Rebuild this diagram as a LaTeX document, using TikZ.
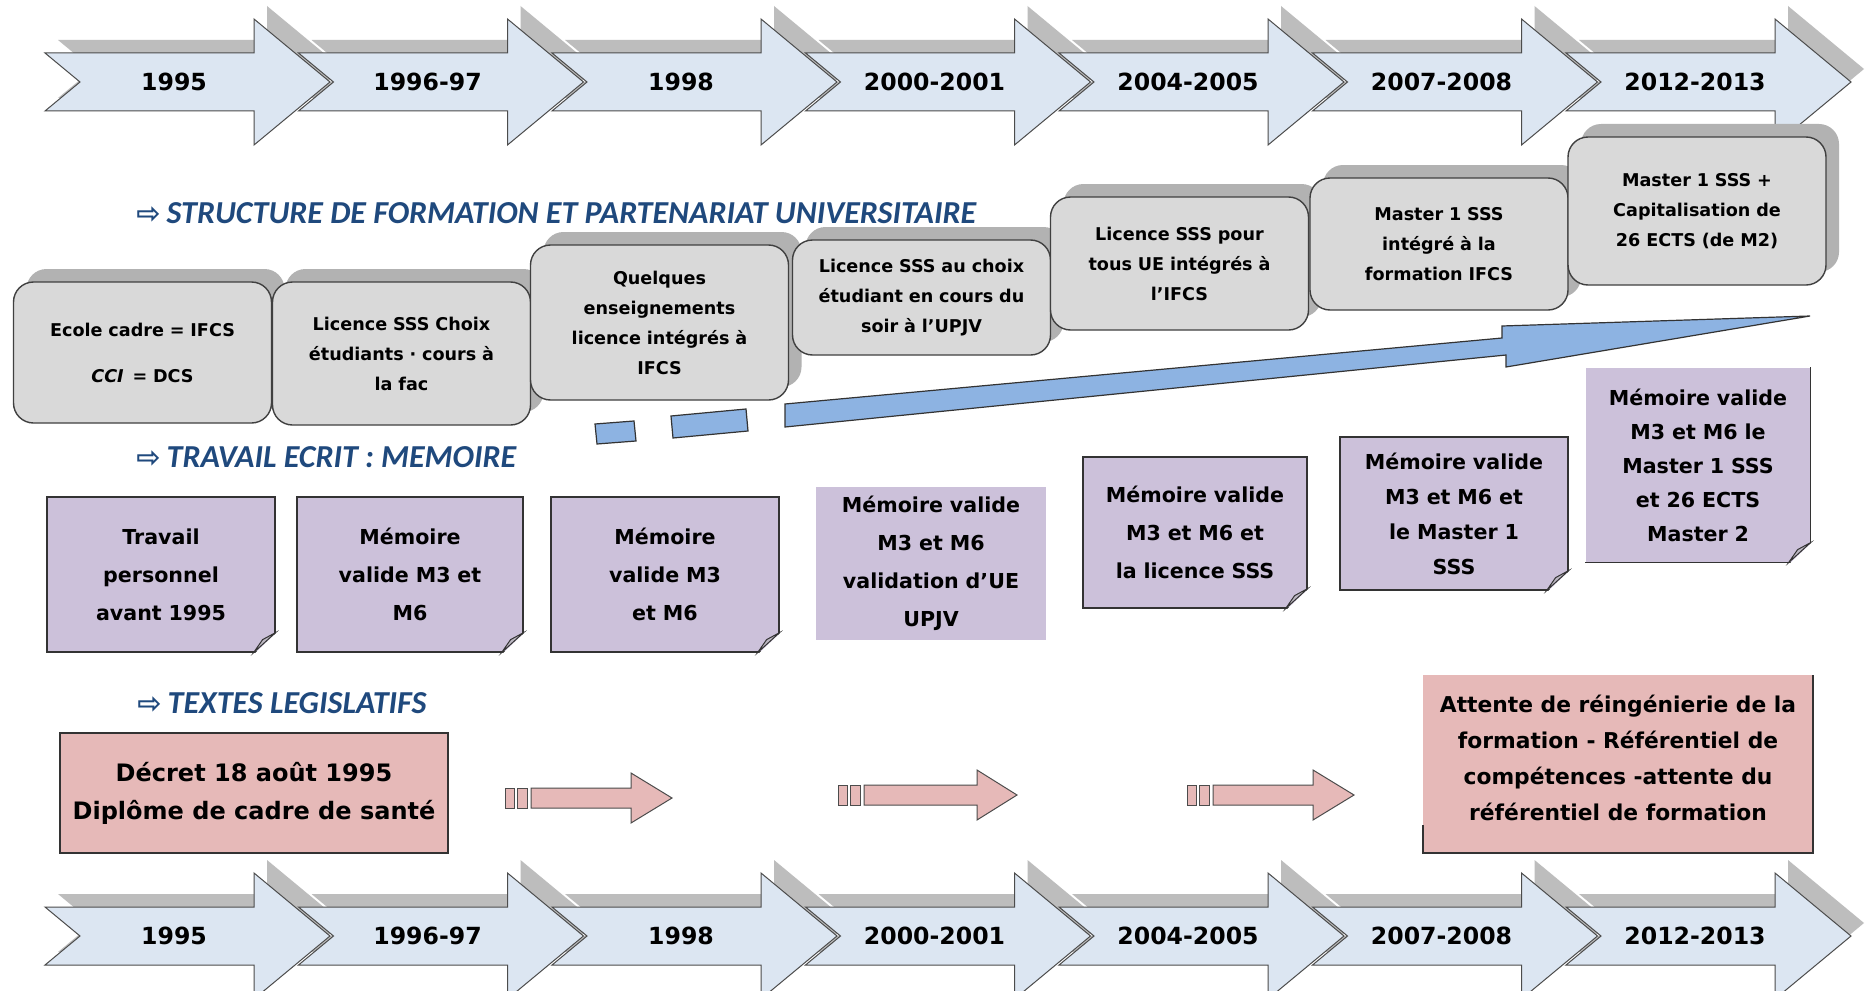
\documentclass[tikz,border=0pt]{standalone}
\usepackage{fontspec}
\setmainfont{DejaVu Sans}
\newfontfamily\titlefont{Carlito}
\usetikzlibrary{positioning}
\usetikzlibrary{calc}
\usetikzlibrary{shadows}

\definecolor{chevfill}{HTML}{DCE6F2}
\definecolor{boxgrey}{HTML}{D9D9D9}
\definecolor{memofill}{HTML}{CCC1DA}
\definecolor{lawfill}{HTML}{E6B9B8}
\definecolor{titleblue}{HTML}{1F497D}
\definecolor{barblue}{HTML}{8DB3E2}

\newcommand{\yearfont}{\fontsize{11.8}{14}\selectfont\bfseries}
\newcommand{\phasefont}{\fontsize{8.8}{15}\selectfont\bfseries}
\newcommand{\memofont}{\fontsize{10.3}{19}\selectfont\bfseries}
\newcommand{\lawfont}{\fontsize{12}{19}\selectfont\bfseries}
\newcommand{\lawsmallfont}{\fontsize{10.9}{18}\selectfont\bfseries}
\newcommand{\headfont}{\titlefont\fontsize{16}{18}\selectfont\bfseries\itshape}
\newcommand{\arrowfont}{\normalfont\fontsize{14.5}{16}\selectfont\bfseries}

\newcommand{\chevshape}[3]{%
  \path[#1] (#2-209,#3-29) -- (#2,#3-29) -- (#2,#3-63) -- (#2+76,#3) -- (#2,#3+63)
    -- (#2,#3+29) -- (#2-209,#3+29) -- (#2-174,#3) -- cycle;}

\begin{document}
\begin{tikzpicture}[x=0.5pt,y=-0.5pt,
  chev/.style={fill=chevfill,draw=black!70,line width=0.5pt},
  chevshade/.style={fill=black!26},
  yearlbl/.style={font=\yearfont,inner sep=0pt},
  heading/.style={anchor=west,text=titleblue,font=\headfont,inner sep=0pt},
  phase/.style={draw=black!75,line width=0.7pt,fill=boxgrey,rounded corners=10pt,align=center,
    minimum width=129pt,text width=120pt,inner sep=2pt,font=\phasefont,
    drop shadow={shadow xshift=6.5pt,shadow yshift=6.5pt,fill=black!30,opacity=1}},
  memo/.style={draw=black!80,line width=0.6pt,fill=memofill,align=center,text width=108pt,
    inner sep=0pt,font=\memofont},
  curl/.style={fill=memofill!70!black!60,draw=black!80,line width=0.5pt},
  law/.style={draw=black!80,line width=0.6pt,fill=lawfill,align=center,inner sep=0pt,font=\lawfont},
  lawtext/.style={align=center,inner sep=0pt,font=\lawsmallfont},
  pinkbar/.style={fill=lawfill,draw=black!70,line width=0.5pt},
  bluebar/.style={fill=barblue,draw=black!80,line width=0.6pt}]

\useasboundingbox (0,0) rectangle (1867,990);
\fill[white] (0,0) rectangle (1867,990);

\foreach \i in {0,...,6} {
  \pgfmathsetmacro\b{254+253.5*\i}
  \chevshape{chevshade,shift={(13,-13)}}{\b}{82}
  \chevshape{chevshade,shift={(13,-13)}}{\b}{936}
}
\foreach \yr [count=\i from 0] in {1995,1996-97,1998,2000-2001,2004-2005,2007-2008,2012-2013} {
  \pgfmathsetmacro\b{254+253.5*\i}
  \chevshape{chev}{\b}{82}
  \chevshape{chev}{\b}{936}
  \node[yearlbl] (t\i) at (\b-80,82) {\yr};
  \node[yearlbl] (b\i) at (\b-80,936) {\yr};
}

\node[heading] (h1) at (136,213) {{\arrowfont ⇨}\hspace{3pt}STRUCTURE DE FORMATION ET PARTENARIAT UNIVERSITAIRE};
\node[heading] (h2) at (136,457) {{\arrowfont ⇨}\hspace{3pt}TRAVAIL ECRIT : MEMOIRE};
\node[heading] (h3) at (137,703) {{\arrowfont ⇨}\hspace{3pt}TEXTES LEGISLATIFS};

\node[phase,minimum height=70.5pt] (s1) at (142.5,352.5) {Ecole cadre = IFCS\\[8pt]\textit{CCI}\, = DCS};
\node[phase,minimum height=71.5pt] (s2) at (401.5,353.5) {Licence SSS Choix\\étudiants · cours à\\la fac};
\node[phase,minimum height=77.5pt] (s3) at (659.5,322.5) {Quelques\\enseignements\\licence intégrés à\\IFCS};
\node[phase,minimum height=57.5pt] (s4) at (921.5,297.5) {Licence SSS au choix\\étudiant en cours du\\soir à l'UPJV};
\node[phase,minimum height=66.5pt] (s5) at (1179.5,263.5) {Licence SSS pour\\tous UE intégrés à\\l'IFCS};
\node[phase,minimum height=66pt] (s6) at (1439,244) {Master 1 SSS\\intégré à la\\formation IFCS};
\node[phase,minimum height=74pt] (s7) at (1697,211) {Master 1 SSS +\\Capitalisation de\\26 ECTS (de M2)};

\draw[bluebar] (595,424) -- (634,421) -- (636,441) -- (597,444) -- cycle;
\draw[bluebar] (671,416) -- (746,409) -- (748,431) -- (673,438) -- cycle;
\draw[bluebar] (785,404) -- (1502,338) -- (1502,326) -- (1810,316) -- (1506,367) -- (1506,355) -- (785,427) -- cycle;

\node[memo,minimum width=114pt,minimum height=77.5pt] (m1) at (161,574.5) {Travail\\personnel\\avant 1995};
\node[memo,minimum width=113pt,minimum height=77.5pt] (m2) at (410,574.5) {Mémoire\\valide M3 et\\M6};
\node[memo,minimum width=114pt,minimum height=77.5pt] (m3) at (665,574.5) {Mémoire\\valide M3\\et M6};
\node[memo,draw=none,minimum width=115pt,minimum height=76.5pt] (m4) at (931,563.5) {Mémoire valide\\M3 et M6\\validation d'UE\\UPJV};
\node[memo,minimum width=112pt,minimum height=75.5pt] (m5) at (1195,532.5) {Mémoire valide\\M3 et M6 et\\la licence SSS};
\node[memo,minimum width=114pt,minimum height=76.5pt,font=\fontsize{10.3}{17.5}\selectfont\bfseries] (m6) at (1454,513.5) {Mémoire valide\\M3 et M6 et\\le Master 1\\SSS};
\node[memo,draw=none,minimum width=112pt,minimum height=97pt,font=\fontsize{10.3}{17}\selectfont\bfseries] (m7) at (1698,465) {Mémoire valide\\M3 et M6 le\\Master 1 SSS\\et 26 ECTS\\Master 2};
\draw[black!80,line width=0.6pt] (m7.north east) -- (m7.south east) -- (m7.south west);

\foreach \m in {m1,m2,m3,m5,m6,m7} {
  \fill[white] ($(\m.south east)+(-22,2)$) -- ($(\m.south east)+(2,2)$) -- ($(\m.south east)+(2,-21)$) -- cycle;
  \path[curl] ($(\m.south east)+(-22,0)$) -- ($(\m.south east)+(0,-20)$) -- ($(\m.south east)+(-13,-13)$) -- cycle;
}

\node[law,minimum width=194pt,minimum height=60pt] (l1) at (254,793) {Décret 18 août 1995\\Diplôme de cadre de santé};

\foreach \s/\e/\t/\yc in {505/631/672/798,838/977/1017/795,1187/1313/1354/795} {
  \draw[pinkbar] (\s,\yc-10) rectangle (\s+9,\yc+10);
  \draw[pinkbar] (\s+12,\yc-10) rectangle (\s+22,\yc+10);
  \draw[pinkbar] (\s+26,\yc-10) -- (\e,\yc-10) -- (\e,\yc-25) -- (\t,\yc) -- (\e,\yc+25) -- (\e,\yc+10) -- (\s+26,\yc+10) -- cycle;
}

\fill[lawfill] (1423,675) rectangle (1813,853);
\draw[black!80,line width=0.6pt] (1423,825) -- (1423,853) -- (1813,853) -- (1813,675);
\node[lawtext] (l2) at (1618,758) {Attente de réingénierie de la\\formation - Référentiel de\\compétences -attente du\\référentiel de formation};

\end{tikzpicture}
\end{document}
